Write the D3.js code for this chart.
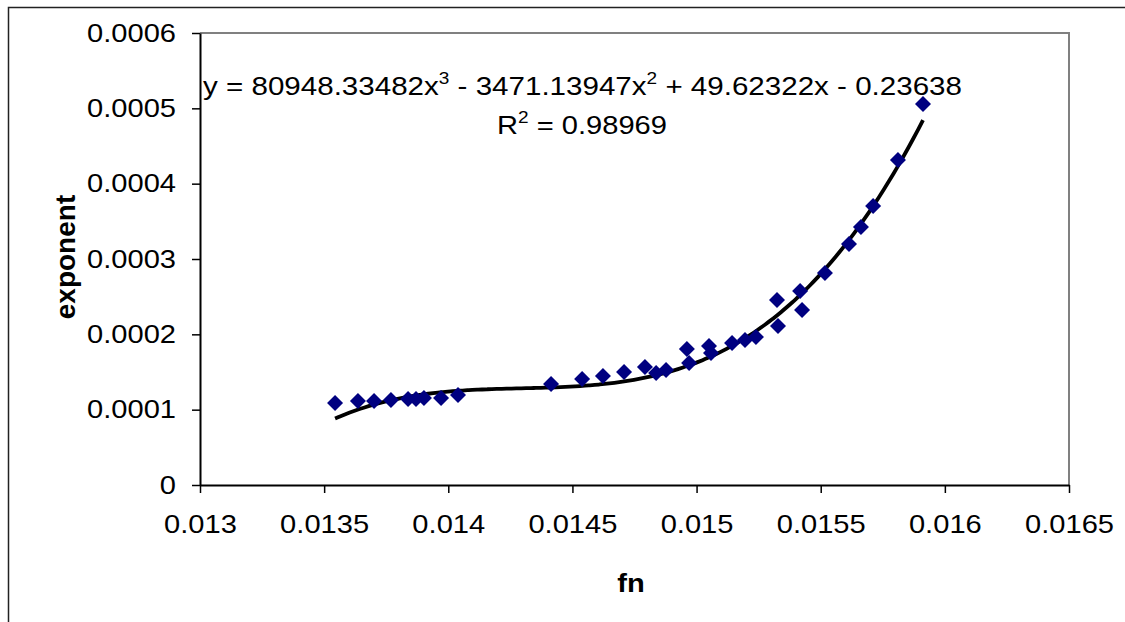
<!DOCTYPE html>
<html>
<head>
<meta charset="utf-8">
<script src="https://cdnjs.cloudflare.com/ajax/libs/d3/7.8.5/d3.min.js"></script>
<style>
	body { margin: 0; background: #fff; }
	text { font-family: "Liberation Sans", Arial, sans-serif; }
</style>
</head>
<body>
<div id="chart"></div>
<script>
let FN = [0.013544, 0.013636, 0.013701, 0.013769, 0.013838, 0.01387, 0.013902, 0.013971, 0.014039,
	0.014414, 0.014539, 0.014623, 0.014708, 0.014792, 0.014837, 0.014877, 0.014961, 0.01497,
	0.01505, 0.015058, 0.015143, 0.015195, 0.015239, 0.015324, 0.015328, 0.015417, 0.015425,
	0.015517, 0.015614, 0.015662, 0.015711, 0.015811, 0.015912];
let EXPONENT = [0.0001089, 0.0001115, 0.0001115, 0.0001128, 0.0001142, 0.0001142, 0.0001155, 0.0001155, 0.0001195,
	0.0001341, 0.0001407, 0.0001447, 0.00015, 0.0001566, 0.0001487, 0.0001527, 0.0001805, 0.000162,
	0.0001845, 0.0001752, 0.0001885, 0.0001925, 0.0001965, 0.0002456, 0.0002111, 0.0002575, 0.0002323,
	0.0002814, 0.0003199, 0.0003425, 0.0003704, 0.0004314, 0.0005058];
// trendline coefficients as printed on the chart (x^3, x^2, x, 1)
let COEFFS = [80948.33482, -3471.13947, 49.62322, -0.23638];
let X_TICKS = [0.013, 0.0135, 0.014, 0.0145, 0.015, 0.0155, 0.016, 0.0165];
let Y_TICKS = [0, 0.0001, 0.0002, 0.0003, 0.0004, 0.0005, 0.0006];

let WIDTH = 1125, HEIGHT = 622;
let LEFT = 200, RIGHT = 1069, TOP = 33, BOTTOM = 485;
let FONT = 26;
let STRETCH = 1.12; // the original picture is a bit wider than tall

// widen a text element around its anchor point
function stretch(sel, ax, ay) {
	sel.attr("transform", `translate(${ax},${ay}) scale(${STRETCH},1) translate(${-ax},${-ay})`);
}

let svg = d3.select("#chart").append("svg").
	attr("width", WIDTH).
	attr("height", HEIGHT);

// chart area frame
svg.append("rect").
	attr("x", 8.5).attr("y", 7.5).
	attr("width", WIDTH).attr("height", HEIGHT).
	attr("fill", "none").
	attr("stroke", "#222").
	attr("stroke-width", 1.5);

let x = d3.scaleLinear().domain([0.013, 0.0165]).range([LEFT, RIGHT]);
let y = d3.scaleLinear().domain([0, 0.0006]).range([BOTTOM, TOP]);

// plot frame (top/right gray)
svg.append("path").
	attr("d", `M${LEFT},${TOP}H${RIGHT}V${BOTTOM}`).
	attr("fill", "none").
	attr("stroke", "#808080").
	attr("stroke-width", 2);

let fmt = d => String(+d.toFixed(4));

let xAxis = svg.append("g").
	attr("transform", `translate(0,${BOTTOM})`).
	call(d3.axisBottom(x).tickValues(X_TICKS).tickFormat(fmt).tickSize(8).tickPadding(22).tickSizeOuter(0));

let yAxis = svg.append("g").
	attr("transform", `translate(${LEFT},0)`).
	call(d3.axisLeft(y).tickValues(Y_TICKS).tickFormat(fmt).tickSize(8).tickPadding(16).tickSizeOuter(0));

[xAxis, yAxis].forEach(a => {
	a.select(".domain").attr("stroke", "#000").attr("stroke-width", 2);
	a.selectAll(".tick line").attr("stroke", "#000").attr("stroke-width", 1.5);
	a.selectAll(".tick text").
		attr("fill", "#000").
		style("font-size", FONT + "px").
		style("font-family", "Liberation Sans, Arial, sans-serif");
});
xAxis.selectAll(".tick text").each(function() {
	stretch(d3.select(this), 0, 0);
});
yAxis.selectAll(".tick text").each(function() {
	stretch(d3.select(this), -24, 0);
});

// trendline
let poly = v => COEFFS[0] * v * v * v + COEFFS[1] * v * v + COEFFS[2] * v + COEFFS[3];
let xs = d3.range(FN[0], d3.max(FN) + 1e-9, (d3.max(FN) - FN[0]) / 120);
svg.append("path").
	datum(xs).
	attr("fill", "none").
	attr("stroke", "#000").
	attr("stroke-width", 3.8).
	attr("d", d3.line().x(d => x(d)).y(d => y(poly(d))).curve(d3.curveMonotoneX));

// markers
let R = 8;
svg.append("g").
	selectAll("path").
	data(FN.map((f, i) => [f, EXPONENT[i]])).
	join("path").
	attr("fill", "#000080").
	attr("d", d => {
		let cx = x(d[0]), cy = y(d[1]);
		return `M${cx},${cy - R}L${cx + R},${cy}L${cx},${cy + R}L${cx - R},${cy}Z`;
	});

// equation
let eq = svg.append("text").
	attr("x", 203).
	attr("y", 95).
	style("font-size", "26.4px");
eq.append("tspan").text("y = 80948.33482x");
eq.append("tspan").attr("dy", -11).style("font-size", "17px").text("3");
eq.append("tspan").attr("dy", 11).text(" - 3471.13947x");
eq.append("tspan").attr("dy", -11).style("font-size", "17px").text("2");
eq.append("tspan").attr("dy", 11).text(" + 49.62322x - 0.23638");
stretch(eq, 203, 95);

let r2 = svg.append("text").
	attr("x", 582).
	attr("y", 134).
	attr("text-anchor", "middle").
	style("font-size", FONT + "px");
r2.append("tspan").text("R");
r2.append("tspan").attr("dy", -11).style("font-size", "17px").text("2");
r2.append("tspan").attr("dy", 11).text(" = 0.98969");
stretch(r2, 582, 134);

// axis titles
let xTitle = svg.append("text").
	attr("x", 631).
	attr("y", 592).
	attr("text-anchor", "middle").
	style("font-size", FONT + "px").
	style("font-weight", "bold").
	text("fn");
stretch(xTitle, 631, 592);

svg.append("text").
	attr("transform", `translate(75,257) rotate(-90)`).
	attr("text-anchor", "middle").
	style("font-size", "28px").
	style("font-weight", "bold").
	text("exponent");
</script>
</body>
</html>
